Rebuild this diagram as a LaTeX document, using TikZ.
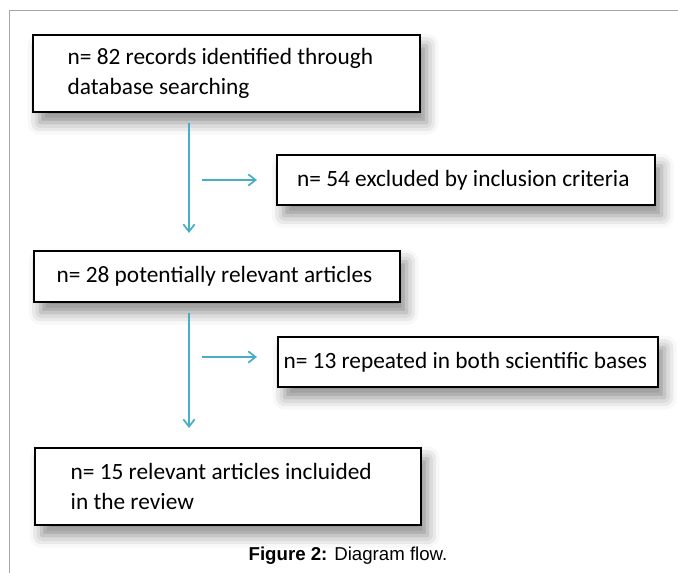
\documentclass[tikz,border=0pt]{standalone}
\usepackage{fontspec}
\newfontfamily\boxfont{Carlito}
\newfontfamily\captionfont{Liberation Sans}
\usetikzlibrary{positioning, calc, arrows.meta, shadows.blur}
\definecolor{flowblue}{HTML}{4BACC6}
\hyphenpenalty=10000

\begin{document}
\begin{tikzpicture}[stage/.style={rectangle, 
      draw=black, 
      line width=1.8pt, 
      fill=white, 
      outer sep=0pt, 
      font=\boxfont\fontsize{17.5}{22.5}\selectfont, 
      blur shadow={shadow xshift=5pt, shadow yshift=-8pt, 
        shadow blur radius=9pt, shadow opacity=45}}, 
    flow/.style={draw=flowblue, 
      line width=1.3pt, 
      -{Straight Barb[length=5.5pt, width=8.5pt]}}]

  \useasboundingbox (0,0) rectangle (508.5pt,-429.75pt);
  \draw[gray!70, line width=1pt] (7.2pt,-429.75pt) |- (508.5pt,-7.9pt);

  \node [stage, 
    anchor=north west, 
    text width=238.25pt, 
    inner xsep=26pt, 
    minimum height=57.75pt, 
    align=flush left] (records) at (24.75pt,-26.25pt) {
    n= 82 records identified through\\
    database searching
  };

  \node [stage, 
    below right=32.25pt and 183pt of records.south west, 
    minimum width=283.5pt, 
    minimum height=37.5pt, 
    align=center] (excluded) {
    n= 54 excluded by inclusion criteria
  };

  \node [stage, 
    below=104.25pt of records.south west, 
    anchor=north west, 
    xshift=0.75pt, 
    text width=240.5pt, 
    inner xsep=17pt, 
    minimum height=38.25pt, 
    align=flush left] (potential) {
    n= 28 potentially relevant articles
  };

  \node [stage, 
    below right=26.25pt and 183pt of potential.south west, 
    minimum width=285pt, 
    minimum height=37.5pt, 
    align=center] (repeated) {
    n= 13 repeated in both scientific bases
  };

  \node [stage, 
    below=109.5pt of potential.south west, 
    anchor=north west, 
    xshift=0.75pt, 
    text width=236pt, 
    inner xsep=26.75pt, 
    minimum height=57.75pt, 
    align=flush left] (included) {
    n= 15 relevant articles incluided\\
    in the review
  };

  \node [font=\captionfont\fontsize{14}{16}\selectfont] (caption) at (261pt,-416.5pt) 
    {\textbf{Figure 2:} Diagram flow.};

  \draw[flow, shorten <=8.25pt, shorten >=13.5pt] ([xshift=117pt]records.south west) 
    -- ([xshift=116.25pt]potential.north west);

  \draw[flow, shorten <=8.25pt, shorten >=15pt] ([xshift=116.25pt]potential.south west) 
    -- ([xshift=115.5pt]included.north west);

  \draw[flow, shorten >=15pt] ([xshift=-56.25pt]excluded.west) -- (excluded.west);

  \draw[flow, shorten >=15.75pt] ([xshift=-57pt, yshift=3.75pt]repeated.west) 
    -- ([yshift=3.75pt]repeated.west);

\end{tikzpicture}
\end{document}
